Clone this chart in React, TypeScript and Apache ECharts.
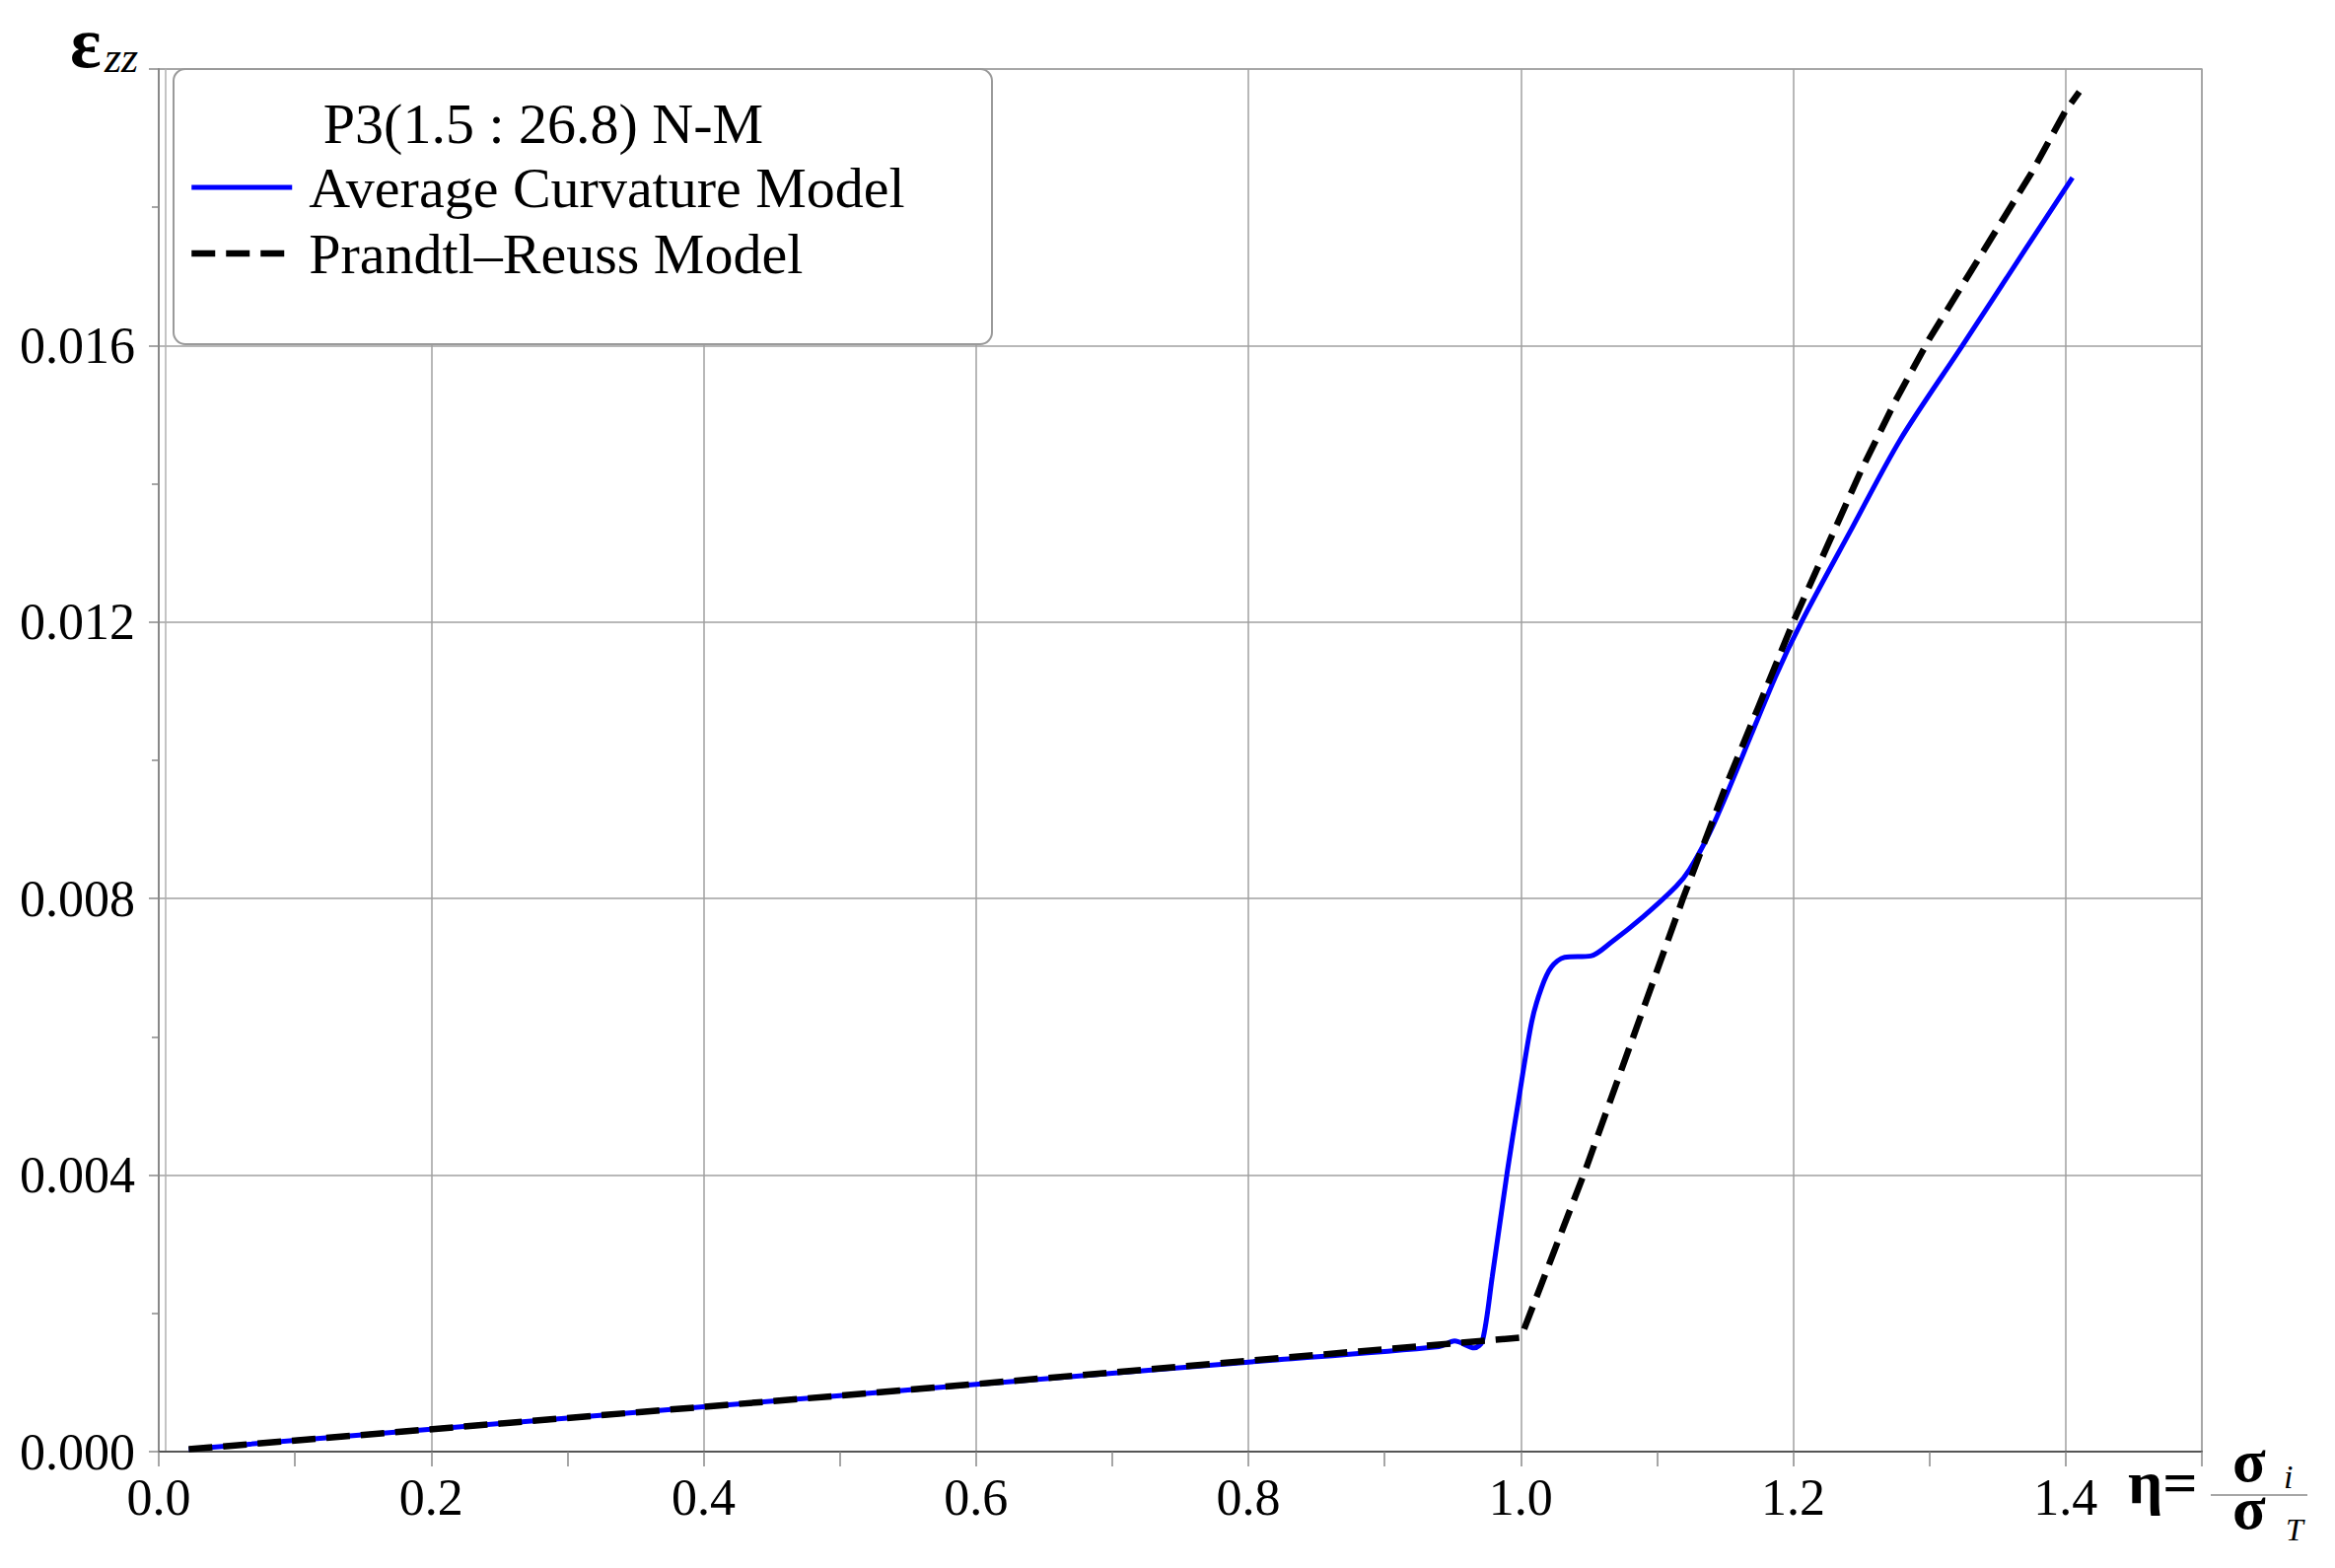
import React, { useEffect, useRef } from "react";
import * as echarts from "echarts";

// Average Curvature Model (blue, solid)
const etaACM = [0.022, 0.2, 0.4, 0.6, 0.8, 0.94, 0.9513, 0.9658, 0.9718, 0.979, 0.9899, 0.9983, 1.008, 1.0152, 1.0225, 1.0321, 1.0514, 1.0659, 1.09, 1.1142, 1.1238, 1.1383, 1.1528, 1.1867, 1.206, 1.2415, 1.2783, 1.3242, 1.37, 1.405];
const epsACM = [0.0000356, 0.000324, 0.000648, 0.000972, 0.001296, 0.00152, 0.0016, 0.0015, 0.0016, 0.00253, 0.00403, 0.00508, 0.00622, 0.00671, 0.00701, 0.00715, 0.00717, 0.00736, 0.00774, 0.00818, 0.00842, 0.00894, 0.00959, 0.0112, 0.012, 0.0133, 0.01463, 0.016, 0.01738, 0.01843];

// Prandtl–Reuss Model (black, dashed)
const etaPR = [0.022, 0.5, 1.0, 1.0466, 1.119, 1.15, 1.175, 1.2, 1.225, 1.25, 1.275, 1.3, 1.325, 1.35, 1.375, 1.4, 1.41];
const epsPR = [0.0000356, 0.00081, 0.00165, 0.00403, 0.0080, 0.0096, 0.0108, 0.012, 0.0131, 0.0142, 0.0152, 0.0161, 0.0169, 0.0177, 0.0185, 0.0194, 0.01967];

const seriesNames = ["Average Curvature Model", "Prandtl\u2013Reuss Model"];
const legendTitle = "P3(1.5 : 26.8) N-M";

const X_MIN = 0, X_MAX = 1.5, X_STEP = 0.2, X_MINOR = 0.1;
const Y_MIN = 0, Y_MAX = 0.02, Y_STEP = 0.004;

const SERIF = '"Liberation Serif", "Times New Roman", serif';
const BLUE_W = 5;
const DASH_W = 6.5;

export default function App() {
  const ref = useRef<HTMLDivElement>(null);
  useEffect(() => {
    if (!ref.current) return;
    const chart = echarts.init(ref.current, undefined, { renderer: "svg" });
    const option: any = {
      animation: false,
      backgroundColor: "#ffffff",
      grid: {
        left: 161, right: 135, top: 70, bottom: 118,
        show: true, borderColor: "#a8a8a8", borderWidth: 1.5, backgroundColor: "transparent",
      },
      xAxis: [
        {
          type: "value", min: X_MIN, max: X_MAX, interval: X_STEP, position: "bottom",
          axisLine: { show: true, onZero: false, lineStyle: { color: "#555", width: 2 } },
          axisTick: { show: false },
          splitLine: { show: true, lineStyle: { color: "#a0a0a0", width: 1.5 } },
          axisLabel: {
            show: true, color: "#000", fontFamily: SERIF, fontSize: 52, margin: 20,
            showMaxLabel: false,
            formatter: (v: number) => (Math.abs(v - X_MAX) < 1e-9 ? "" : v.toFixed(1)),
          },
        },
        {
          type: "value", min: X_MIN, max: X_MAX, interval: X_MINOR, position: "bottom",
          axisLine: { show: false },
          axisTick: { show: true, length: 15, lineStyle: { color: "#888", width: 1.5 } },
          splitLine: { show: false },
          axisLabel: { show: false },
        },
      ],
      yAxis: [
        {
          type: "value", min: Y_MIN, max: Y_MAX, interval: Y_STEP, position: "left",
          axisLine: { show: true, onZero: false, lineStyle: { color: "#888", width: 2 } },
          axisTick: { show: true, length: 10, lineStyle: { color: "#888", width: 1.5 } },
          minorTick: { show: true, splitNumber: 2, length: 7, lineStyle: { color: "#888", width: 1.5 } },
          splitLine: { show: true, lineStyle: { color: "#a0a0a0", width: 1.5 } },
          axisLabel: {
            show: true, color: "#000", fontFamily: SERIF, fontSize: 52, margin: 24,
            showMaxLabel: false,
            formatter: (v: number) => (Math.abs(v - Y_MAX) < 1e-12 ? "" : v.toFixed(3)),
          },
        },
        {
          type: "value", min: Y_MIN, max: Y_MAX, interval: Y_STEP, position: "left", offset: -7,
          axisLine: { show: true, onZero: false, lineStyle: { color: "#b0b0b0", width: 1.5 } },
          axisTick: { show: false },
          splitLine: { show: false },
          axisLabel: { show: false },
        },
      ],
      legend: {
        show: true, orient: "vertical", left: 191, top: 161, padding: 0,
        itemGap: 9, itemWidth: 102, itemHeight: 20, selectedMode: false, z: 10,
        itemStyle: { opacity: 0 },
        textStyle: { color: "#000", fontFamily: SERIF, fontSize: 58, lineHeight: 58, padding: [0, 0, 0, 12] },
        data: [
          { name: seriesNames[0], lineStyle: { width: BLUE_W } },
          { name: seriesNames[1], lineStyle: { width: DASH_W } },
        ],
      },
      graphic: [
        {
          type: "rect", z: 5,
          shape: { x: 176, y: 70, width: 830, height: 279, r: 12 },
          style: { fill: "#ffffff", stroke: "#9a9a9a", lineWidth: 2 },
        },
        {
          type: "text", z: 11, x: 551, y: 125,
          style: { text: legendTitle, font: `58px ${SERIF}`, fill: "#000", textAlign: "center", textVerticalAlign: "middle" },
        },
        {
          type: "text", z: 11, x: 71, y: 43,
          style: { text: "\u03b5", font: `bold 74px ${SERIF}`, fill: "#000", textAlign: "left", textVerticalAlign: "middle" },
        },
        {
          type: "text", z: 11, x: 106, y: 58,
          style: { text: "zz", font: `italic 44px ${SERIF}`, fill: "#000", textAlign: "left", textVerticalAlign: "middle" },
        },
        {
          type: "text", z: 11, x: 2158, y: 1503,
          style: { text: "\u03b7=", font: `bold 62px ${SERIF}`, fill: "#000", textAlign: "left", textVerticalAlign: "middle" },
        },
        {
          type: "line", z: 11,
          shape: { x1: 2242, y1: 1516, x2: 2340, y2: 1516 },
          style: { stroke: "#888", lineWidth: 1.5 },
        },
        {
          type: "text", z: 11, x: 2264, y: 1505,
          style: { text: "\u03c3\n\u03c3", font: `bold 62px ${SERIF}`, lineHeight: 48, fill: "#000", textAlign: "left", textVerticalAlign: "middle" },
        },
        {
          type: "text", z: 11, x: 2316, y: 1497,
          style: { text: "i", font: `italic 34px ${SERIF}`, fill: "#000", textAlign: "left", textVerticalAlign: "middle" },
        },
        {
          type: "text", z: 11, x: 2318, y: 1551,
          style: { text: "T", font: `italic 32px ${SERIF}`, fill: "#000", textAlign: "left", textVerticalAlign: "middle" },
        },
      ],
      series: [
        {
          name: seriesNames[0], type: "line", xAxisIndex: 0, yAxisIndex: 0, symbol: "none", smooth: 0.3, z: 2,
          lineStyle: { color: "#0000ff", width: BLUE_W }, itemStyle: { color: "#0000ff" },
          data: etaACM.map((x, i) => [x, epsACM[i]]),
        },
        {
          name: seriesNames[1], type: "line", xAxisIndex: 0, yAxisIndex: 0, symbol: "none", smooth: false, z: 3,
          lineStyle: { color: "#000000", width: DASH_W, type: [24, 11] }, itemStyle: { color: "#000000" },
          data: etaPR.map((x, i) => [x, epsPR[i]]),
        },
      ],
    };
    chart.setOption(option);
    return () => chart.dispose();
  }, []);
  return (
    <div
      ref={ref}
      style={{ position: "absolute", left: 0, top: 0, width: 2368, height: 1590, background: "#fff" }}
    />
  );
}
